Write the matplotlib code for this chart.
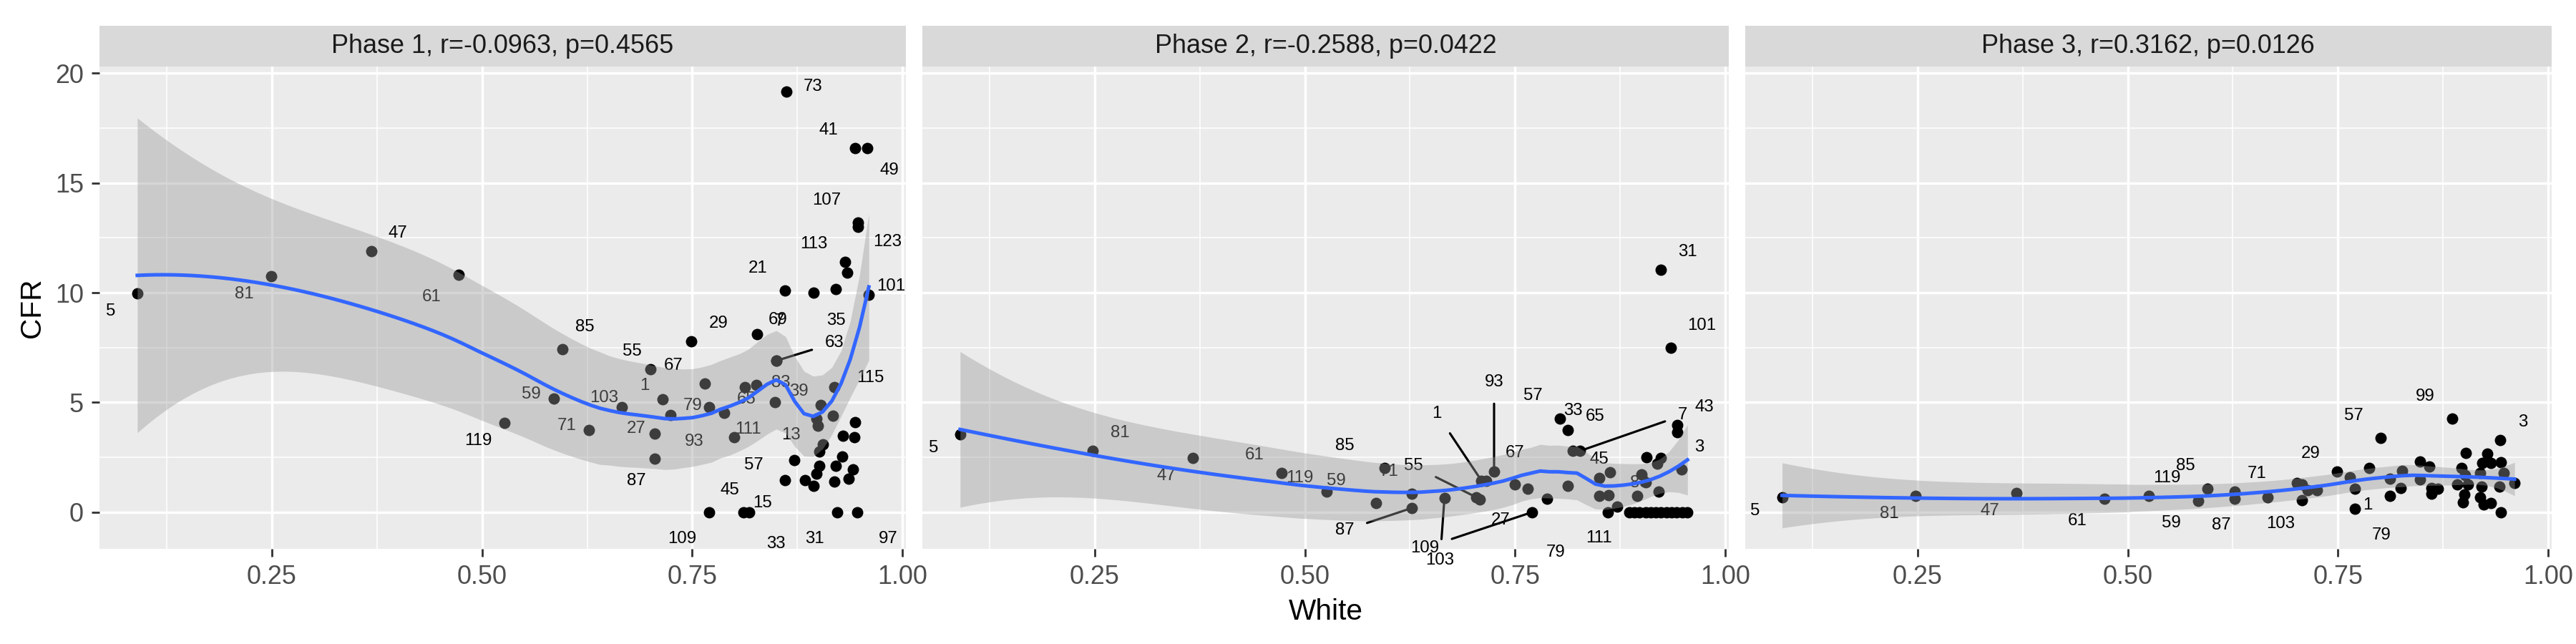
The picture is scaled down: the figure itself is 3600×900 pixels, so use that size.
import numpy as np
import matplotlib
matplotlib.use("Agg")
import matplotlib.pyplot as plt
from matplotlib.patches import Rectangle

titles = [
    "Phase 1, r=-0.0963, p=0.4565",
    "Phase 2, r=-0.2588, p=0.0422",
    "Phase 3, r=0.3162, p=0.0126",
]

# phase 1: White, CFR, county label
p1_x = [0.090, 0.249, 0.368, 0.472, 0.527, 0.585, 0.596, 0.627, 0.666, 0.700, 0.705, 0.705,
        0.715, 0.724, 0.749, 0.765, 0.770, 0.788, 0.800, 0.813, 0.826, 0.827, 0.848, 0.850,
        0.850, 0.860, 0.862, 0.894, 0.921, 0.932, 0.934, 0.944, 0.958, 0.947, 0.947, 0.960,
        0.919, 0.903, 0.917, 0.898, 0.899, 0.944, 0.929, 0.943, 0.905, 0.901, 0.871, 0.928,
        0.901, 0.898, 0.921, 0.941, 0.936, 0.860, 0.884, 0.894, 0.919, 0.770, 0.811, 0.818,
        0.922, 0.946]
p1_y = [9.98, 10.76, 11.88, 10.81, 4.07, 5.18, 7.42, 3.75, 4.79, 6.50, 3.59, 2.45,
        5.15, 4.44, 7.80, 5.85, 4.77, 4.54, 3.41, 5.70, 5.80, 8.10, 5.00, 6.90,
        6.90, 10.10, 19.17, 10.00, 10.15, 11.40, 10.90, 16.60, 16.60, 13.20, 13.00, 9.90,
        5.70, 4.90, 4.40, 4.25, 3.93, 4.10, 3.48, 3.41, 3.10, 2.78, 2.36, 2.54,
        2.10, 1.76, 2.12, 1.94, 1.54, 1.45, 1.47, 1.20, 1.40, 0.0, 0.0, 0.0,
        0.0, 0.0]
p1_lab = ["5", "81", "47", "61", "119", "59", "85", "71", "103", "55", "27", "87",
          "1", "79", "29", "67", "", "65", "93", "", "", "7", "111", "63",
          "83", "21", "73", "69", "35", "113", "123", "41", "49", "107", "", "101",
          "115", "39", "", "", "", "", "", "", "13", "", "57", "",
          "", "", "", "", "", "15", "", "", "", "109", "45", "33",
          "31", "97"]

# phase 2
p2_x = [0.090, 0.248, 0.367, 0.472, 0.526, 0.585, 0.595, 0.627, 0.627, 0.666, 0.704, 0.708,
        0.710, 0.716, 0.725, 0.750, 0.765, 0.788, 0.770, 0.813, 0.803, 0.813, 0.819, 0.827,
        0.850, 0.863, 0.850, 0.861, 0.871, 0.860, 0.900, 0.905, 0.895, 0.921, 0.906, 0.923,
        0.919, 0.948, 0.943, 0.943, 0.923, 0.935, 0.886, 0.892, 0.898, 0.905, 0.911, 0.917,
        0.923, 0.930, 0.936, 0.942, 0.949, 0.955]
p2_y = [3.55, 2.79, 2.46, 1.78, 0.95, 0.41, 2.01, 0.84, 0.19, 0.66, 0.68, 0.57,
        1.44, 1.44, 1.84, 1.28, 1.06, 0.63, 0.0, 1.19, 4.28, 3.74, 2.79, 2.79,
        1.55, 1.82, 0.76, 0.79, 0.25, 0.0, 1.71, 1.38, 0.74, 0.95, 2.52, 2.46,
        2.22, 1.95, 3.98, 3.63, 11.03, 7.49, 0.0, 0.0, 0.0, 0.0, 0.0, 0.0,
        0.0, 0.0, 0.0, 0.0, 0.0, 0.0]
p2_lab = ["5", "81", "47", "61", "119", "59", "85", "71", "87", "103", "55", "",
          "1", "", "93", "67", "27", "79", "109", "45", "57", "65", "33", "7",
          "83", "", "", "", "111", "", "", "", "", "", "", "",
          "", "3", "43", "", "31", "101", "", "", "", "", "", "",
          "", "", "", "", "", ""]

# phase 3
p3_x = [0.089, 0.248, 0.368, 0.472, 0.525, 0.584, 0.595, 0.627, 0.627, 0.666, 0.701, 0.707,
        0.714, 0.725, 0.707, 0.749, 0.764, 0.770, 0.770, 0.787, 0.801, 0.812, 0.826, 0.825,
        0.812, 0.848, 0.859, 0.848, 0.861, 0.869, 0.861, 0.886, 0.902, 0.897, 0.901, 0.892,
        0.905, 0.900, 0.899, 0.919, 0.922, 0.921, 0.928, 0.932, 0.944, 0.943, 0.919, 0.923,
        0.932, 0.944, 0.947, 0.942, 0.960]
p3_y = [0.68, 0.73, 0.89, 0.62, 0.75, 0.52, 1.08, 0.95, 0.62, 0.68, 1.32, 1.27,
        1.00, 1.00, 0.55, 1.86, 1.59, 1.08, 0.17, 2.00, 3.37, 1.54, 1.89, 1.11,
        0.73, 2.32, 2.07, 1.48, 1.11, 1.08, 0.84, 4.25, 2.69, 2.02, 1.70, 1.27,
        1.27, 0.81, 0.46, 1.80, 2.24, 1.16, 2.67, 2.24, 2.29, 3.28, 0.68, 0.35,
        0.41, 0.0, 1.80, 1.16, 1.32]
p3_lab = ["5", "81", "47", "61", "119", "59", "85", "71", "87", "103", "", "",
          "", "", "", "29", "", "", "79", "", "57", "", "", "",
          "1", "", "", "", "", "", "", "99", "", "", "", "",
          "", "", "", "", "", "", "", "", "", "3", "", "",
          "", "", "", "", ""]

# label offsets in points (layout only)
offs = [
    {"5": (-12, -8), "81": (-12, -8), "47": (12, 8), "61": (-12, -10), "119": (-12, -8),
     "59": (-10, 2), "85": (10, 10), "71": (-10, 2), "103": (-8, 4), "55": (-8, 8),
     "27": (-8, 2), "87": (-8, -10), "1": (-8, 6), "79": (10, 4), "29": (12, 8), "67": (-14, 8),
     "65": (10, 6), "93": (-18, -2), "111": (-12, -12), "63": (26, 8), "83": (2, -10),
     "21": (-12, 10), "73": (12, 2), "69": (-16, -12), "35": (0, -14), "113": (-14, 8),
     "123": (18, 14), "41": (-12, 8), "49": (10, -10), "107": (-14, 10), "101": (10, 4),
     "115": (16, 4), "39": (-10, 6), "13": (-14, 4), "57": (-18, -2), "15": (-10, -10),
     "109": (-12, -12), "45": (-6, 10), "33": (12, -14), "31": (-10, -12), "97": (14, -12)},
    {"5": (-12, -6), "81": (12, 8), "47": (-12, -8), "61": (-12, 8), "119": (-12, 6),
     "59": (-18, 10), "85": (-18, 10), "71": (-10, 10), "87": (-30, -10), "103": (-2, -28),
     "55": (-28, 14), "1": (-20, 30), "93": (0, 40), "67": (0, 14), "27": (-12, -14),
     "79": (4, -24), "109": (-48, -16), "45": (14, 12), "57": (-12, 10), "65": (12, 6),
     "33": (0, 18), "7": (46, 16), "83": (18, -2), "111": (-8, -14), "3": (8, 10),
     "43": (12, 8), "31": (12, 8), "101": (14, 10)},
    {"5": (-12, -6), "81": (-12, -8), "47": (-12, -8), "61": (-12, -10), "119": (8, 8),
     "59": (-12, -10), "85": (-10, 10), "71": (10, 8), "87": (-6, -12), "103": (6, -12),
     "29": (-12, 8), "79": (12, -12), "1": (-10, -4), "57": (-12, 10), "99": (-12, 10),
     "3": (10, 8)},
]

panels = [(p1_x, p1_y, p1_lab), (p2_x, p2_y, p2_lab), (p3_x, p3_y, p3_lab)]


def loess(x, y, grid, span=0.75):
    x = np.asarray(x)
    y = np.asarray(y)
    n = len(x)
    q = int(np.floor(n * span))

    def rows(x0):
        d = np.abs(x - x0)
        h = np.sort(d)[q - 1] * 1.0001
        w = np.clip(1 - (d / h) ** 3, 0, None) ** 3
        X = np.column_stack([np.ones(n), x - x0, (x - x0) ** 2])
        W = np.diag(w)
        A = np.linalg.pinv(X.T @ W @ X) @ X.T @ W
        return A[0]

    L = np.array([rows(xi) for xi in x])
    res = y - L @ y
    d1 = n - np.trace(2 * L - L.T @ L)
    sigma = np.sqrt(np.sum(res ** 2) / d1)
    fit, se = [], []
    for g in grid:
        l = rows(g)
        fit.append(l @ y)
        se.append(sigma * np.sqrt(np.sum(l ** 2)))
    return np.array(fit), np.array(se)


plt.rcParams["font.family"] = ["Liberation Sans", "DejaVu Sans"]
fig = plt.figure(figsize=(16, 4), dpi=225)
left, right, bottom, top = 0.0386, 0.9905, 0.148, 0.8967
gap = 23 / 3600
w = (right - left - 2 * gap) / 3

for k, (px, py, labs) in enumerate(panels):
    ax = fig.add_axes([left + k * (w + gap), bottom, w, top - bottom])
    ax.set_facecolor("#EBEBEB")
    ax.set_xlim(0.045, 1.004)
    ax.set_ylim(-1.66, 20.3)
    for v in [0.125, 0.375, 0.625, 0.875]:
        ax.axvline(v, color="white", lw=0.5, zorder=0)
    for v in [2.5, 7.5, 12.5, 17.5]:
        ax.axhline(v, color="white", lw=0.5, zorder=0)
    for v in [0.25, 0.5, 0.75, 1.0]:
        ax.axvline(v, color="white", lw=1.1, zorder=0)
    for v in [0, 5, 10, 15, 20]:
        ax.axhline(v, color="white", lw=1.1, zorder=0)
    for s in ax.spines.values():
        s.set_visible(False)
    ax.set_xticks([0.25, 0.5, 0.75, 1.0])
    ax.set_xticklabels(["0.25", "0.50", "0.75", "1.00"])
    ax.set_yticks([0, 5, 10, 15, 20])
    ax.tick_params(colors="#333333", labelcolor="#4D4D4D", labelsize=11.5, length=3.5, width=0.9)
    if k > 0:
        ax.set_yticklabels([])
        ax.tick_params(axis="y", length=0)
    else:
        ax.set_ylabel("CFR", fontsize=13)
    if k == 1:
        ax.set_xlabel("White", fontsize=13)

    ax.scatter(px, py, s=26, color="black", zorder=2, linewidths=0)
    for xi, yi, lb in zip(px, py, labs):
        if not lb:
            continue
        dx, dy = offs[k].get(lb, (10, 6))
        ax.annotate(lb, (xi, yi), xytext=(dx, dy), textcoords="offset points",
                    ha="center", va="center", fontsize=7.7, color="black", zorder=2,
                    arrowprops=dict(arrowstyle="-", color="black", lw=1.0,
                                    shrinkA=4, shrinkB=2) if np.hypot(dx, dy) > 25 else None)

    grid = np.linspace(min(px), max(px), 80)
    fit, se = loess(px, py, grid)
    ax.fill_between(grid, fit - 1.98 * se, fit + 1.98 * se, color="#999999", alpha=0.4,
                    linewidth=0, zorder=3)
    ax.plot(grid, fit, color="#3366FF", lw=1.6, zorder=4)

    ax.add_patch(Rectangle((0, 1.0), 1, 0.085, transform=ax.transAxes, clip_on=False,
                           facecolor="#D9D9D9", edgecolor="none"))
    ax.text(0.5, 1.0425, titles[k], transform=ax.transAxes, ha="center", va="center",
            fontsize=11.5, color="#1A1A1A")

fig.savefig("out.png", dpi=225)
